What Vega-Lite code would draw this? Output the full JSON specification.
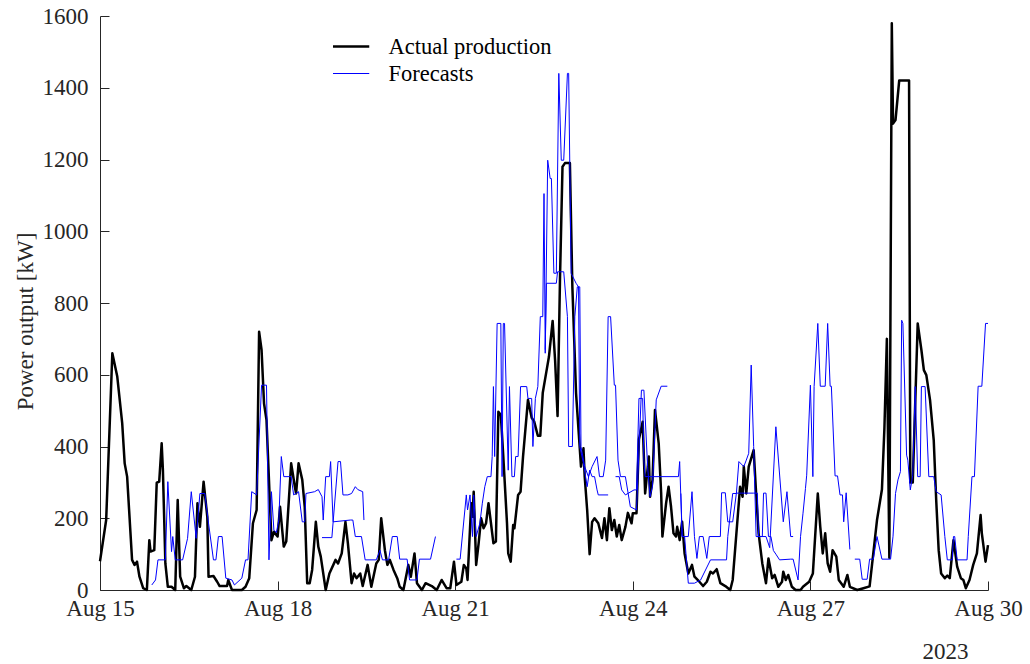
{
  "$schema": "https://vega.github.io/schema/vega-lite/v6.json",
  "width": 888,
  "height": 574,
  "autosize": {"type": "none"},
  "padding": {"left": 100, "top": 16, "right": 42, "bottom": 74},
  "background": "white",
  "config": {"view": {"stroke": null}, "font": "Liberation Serif"},
  "datasets": {
    "actual": [
      {"time":"2023-08-15T00:00","kW":80},{"time":"2023-08-15T02:30","kW":195},{"time":"2023-08-15T05:00","kW":660},{"time":"2023-08-15T07:00","kW":595},{"time":"2023-08-15T09:00","kW":465},{"time":"2023-08-15T10:00","kW":353},{"time":"2023-08-15T11:00","kW":316},{"time":"2023-08-15T13:00","kW":84},{"time":"2023-08-15T14:00","kW":70},{"time":"2023-08-15T15:00","kW":79},{"time":"2023-08-15T16:00","kW":37},{"time":"2023-08-15T17:30","kW":5},{"time":"2023-08-15T19:00","kW":0},{"time":"2023-08-15T20:00","kW":139},{"time":"2023-08-15T20:30","kW":107},{"time":"2023-08-15T22:00","kW":111},{"time":"2023-08-15T23:00","kW":299},
      {"time":"2023-08-16T00:00","kW":302},{"time":"2023-08-16T01:00","kW":409},{"time":"2023-08-16T01:30","kW":334},{"time":"2023-08-16T02:30","kW":74},{"time":"2023-08-16T03:30","kW":9},{"time":"2023-08-16T05:00","kW":9},{"time":"2023-08-16T06:30","kW":0},{"time":"2023-08-16T07:30","kW":251},{"time":"2023-08-16T08:30","kW":37},{"time":"2023-08-16T10:00","kW":5},{"time":"2023-08-16T11:00","kW":11},{"time":"2023-08-16T13:00","kW":0},{"time":"2023-08-16T14:30","kW":37},{"time":"2023-08-16T15:30","kW":242},{"time":"2023-08-16T16:30","kW":176},{"time":"2023-08-16T18:00","kW":302},{"time":"2023-08-16T19:30","kW":204},{"time":"2023-08-16T20:00","kW":37},{"time":"2023-08-16T22:00","kW":39},{"time":"2023-08-16T23:30","kW":23},
      {"time":"2023-08-17T00:30","kW":11},{"time":"2023-08-17T03:30","kW":11},{"time":"2023-08-17T04:00","kW":28},{"time":"2023-08-17T05:30","kW":0},{"time":"2023-08-17T09:30","kW":0},{"time":"2023-08-17T11:00","kW":9},{"time":"2023-08-17T12:30","kW":33},{"time":"2023-08-17T14:00","kW":186},{"time":"2023-08-17T15:30","kW":223},{"time":"2023-08-17T16:30","kW":720},{"time":"2023-08-17T17:30","kW":669},{"time":"2023-08-17T18:30","kW":520},{"time":"2023-08-17T19:30","kW":474},{"time":"2023-08-17T21:30","kW":139},{"time":"2023-08-17T22:30","kW":162},
      {"time":"2023-08-18T00:00","kW":149},{"time":"2023-08-18T01:00","kW":232},{"time":"2023-08-18T01:30","kW":195},{"time":"2023-08-18T02:30","kW":121},{"time":"2023-08-18T03:30","kW":135},{"time":"2023-08-18T05:30","kW":353},{"time":"2023-08-18T07:00","kW":288},{"time":"2023-08-18T07:30","kW":269},{"time":"2023-08-18T08:30","kW":353},{"time":"2023-08-18T10:00","kW":307},{"time":"2023-08-18T11:00","kW":232},{"time":"2023-08-18T12:00","kW":19},{"time":"2023-08-18T13:00","kW":19},{"time":"2023-08-18T14:00","kW":56},{"time":"2023-08-18T15:30","kW":190},{"time":"2023-08-18T16:30","kW":121},{"time":"2023-08-18T17:30","kW":93},{"time":"2023-08-18T19:30","kW":0},{"time":"2023-08-18T21:00","kW":46},{"time":"2023-08-18T23:30","kW":84},
      {"time":"2023-08-19T00:30","kW":74},{"time":"2023-08-19T02:00","kW":102},{"time":"2023-08-19T03:30","kW":190},{"time":"2023-08-19T04:30","kW":130},{"time":"2023-08-19T06:00","kW":19},{"time":"2023-08-19T07:00","kW":46},{"time":"2023-08-19T08:00","kW":33},{"time":"2023-08-19T09:30","kW":46},{"time":"2023-08-19T10:30","kW":11},{"time":"2023-08-19T12:30","kW":70},{"time":"2023-08-19T14:00","kW":9},{"time":"2023-08-19T16:00","kW":74},{"time":"2023-08-19T17:00","kW":84},{"time":"2023-08-19T18:00","kW":200},{"time":"2023-08-19T19:30","kW":111},{"time":"2023-08-19T20:30","kW":70},{"time":"2023-08-19T21:30","kW":84},{"time":"2023-08-19T23:00","kW":56},
      {"time":"2023-08-20T00:30","kW":33},{"time":"2023-08-20T01:30","kW":9},{"time":"2023-08-20T03:00","kW":0},{"time":"2023-08-20T05:00","kW":70},{"time":"2023-08-20T06:00","kW":37},{"time":"2023-08-20T07:30","kW":102},{"time":"2023-08-20T08:30","kW":19},{"time":"2023-08-20T10:30","kW":0},{"time":"2023-08-20T12:00","kW":19},{"time":"2023-08-20T14:30","kW":11},{"time":"2023-08-20T16:30","kW":0},{"time":"2023-08-20T18:30","kW":28},{"time":"2023-08-20T20:30","kW":5},{"time":"2023-08-20T22:00","kW":5},{"time":"2023-08-20T23:30","kW":79},
      {"time":"2023-08-21T00:30","kW":14},{"time":"2023-08-21T02:30","kW":23},{"time":"2023-08-21T03:30","kW":70},{"time":"2023-08-21T04:30","kW":60},{"time":"2023-08-21T05:00","kW":28},{"time":"2023-08-21T06:30","kW":242},{"time":"2023-08-21T07:00","kW":204},{"time":"2023-08-21T07:30","kW":274},{"time":"2023-08-21T08:30","kW":70},{"time":"2023-08-21T09:30","kW":130},{"time":"2023-08-21T10:30","kW":200},{"time":"2023-08-21T11:30","kW":172},{"time":"2023-08-21T12:30","kW":186},{"time":"2023-08-21T13:30","kW":242},{"time":"2023-08-21T14:30","kW":186},{"time":"2023-08-21T15:30","kW":130},{"time":"2023-08-21T16:30","kW":135},{"time":"2023-08-21T17:30","kW":497},{"time":"2023-08-21T18:30","kW":488},{"time":"2023-08-21T19:30","kW":372},{"time":"2023-08-21T21:00","kW":186},{"time":"2023-08-21T21:30","kW":102},{"time":"2023-08-21T22:30","kW":79},{"time":"2023-08-21T23:30","kW":181},
      {"time":"2023-08-22T00:00","kW":172},{"time":"2023-08-22T01:30","kW":265},{"time":"2023-08-22T02:30","kW":274},{"time":"2023-08-22T03:30","kW":372},{"time":"2023-08-22T05:30","kW":530},{"time":"2023-08-22T07:00","kW":480},{"time":"2023-08-22T08:00","kW":470},{"time":"2023-08-22T09:30","kW":430},{"time":"2023-08-22T10:30","kW":430},{"time":"2023-08-22T11:30","kW":550},{"time":"2023-08-22T13:00","kW":610},{"time":"2023-08-22T14:00","kW":650},{"time":"2023-08-22T15:30","kW":750},{"time":"2023-08-22T16:30","kW":640},{"time":"2023-08-22T17:30","kW":485},{"time":"2023-08-22T18:30","kW":873},{"time":"2023-08-22T19:30","kW":1180},{"time":"2023-08-22T20:30","kW":1190},{"time":"2023-08-22T22:30","kW":1190},{"time":"2023-08-22T23:30","kW":845},
      {"time":"2023-08-23T01:00","kW":548},{"time":"2023-08-23T03:00","kW":344},{"time":"2023-08-23T04:00","kW":395},{"time":"2023-08-23T04:30","kW":316},{"time":"2023-08-23T05:30","kW":223},{"time":"2023-08-23T06:30","kW":100},{"time":"2023-08-23T07:30","kW":190},{"time":"2023-08-23T08:30","kW":200},{"time":"2023-08-23T10:00","kW":186},{"time":"2023-08-23T11:30","kW":145},{"time":"2023-08-23T12:30","kW":200},{"time":"2023-08-23T13:30","kW":139},{"time":"2023-08-23T14:30","kW":228},{"time":"2023-08-23T15:30","kW":167},{"time":"2023-08-23T16:30","kW":195},{"time":"2023-08-23T17:30","kW":149},{"time":"2023-08-23T18:30","kW":181},{"time":"2023-08-23T19:30","kW":139},{"time":"2023-08-23T21:00","kW":176},{"time":"2023-08-23T22:00","kW":215},{"time":"2023-08-23T23:30","kW":186},
      {"time":"2023-08-24T00:00","kW":214},{"time":"2023-08-24T01:30","kW":214},{"time":"2023-08-24T02:30","kW":420},{"time":"2023-08-24T04:00","kW":469},{"time":"2023-08-24T05:00","kW":269},{"time":"2023-08-24T06:30","kW":372},{"time":"2023-08-24T07:00","kW":260},{"time":"2023-08-24T08:00","kW":307},{"time":"2023-08-24T09:00","kW":502},{"time":"2023-08-24T10:30","kW":409},{"time":"2023-08-24T11:30","kW":269},{"time":"2023-08-24T12:00","kW":149},{"time":"2023-08-24T13:30","kW":242},{"time":"2023-08-24T14:30","kW":288},{"time":"2023-08-24T15:30","kW":232},{"time":"2023-08-24T16:30","kW":158},{"time":"2023-08-24T17:30","kW":149},{"time":"2023-08-24T18:00","kW":176},{"time":"2023-08-24T19:00","kW":139},{"time":"2023-08-24T20:00","kW":190},{"time":"2023-08-24T21:00","kW":102},{"time":"2023-08-24T22:30","kW":46},
      {"time":"2023-08-25T00:00","kW":70},{"time":"2023-08-25T01:00","kW":37},{"time":"2023-08-25T03:00","kW":23},{"time":"2023-08-25T04:30","kW":11},{"time":"2023-08-25T06:00","kW":23},{"time":"2023-08-25T07:30","kW":51},{"time":"2023-08-25T08:30","kW":46},{"time":"2023-08-25T10:00","kW":58},{"time":"2023-08-25T11:30","kW":19},{"time":"2023-08-25T13:30","kW":11},{"time":"2023-08-25T15:30","kW":0},{"time":"2023-08-25T16:30","kW":28},{"time":"2023-08-25T18:00","kW":158},{"time":"2023-08-25T19:30","kW":288},{"time":"2023-08-25T20:30","kW":260},{"time":"2023-08-25T21:00","kW":344},{"time":"2023-08-25T22:00","kW":269},{"time":"2023-08-25T23:00","kW":344},
      {"time":"2023-08-26T01:00","kW":390},{"time":"2023-08-26T02:00","kW":269},{"time":"2023-08-26T03:00","kW":158},{"time":"2023-08-26T04:30","kW":74},{"time":"2023-08-26T06:00","kW":19},{"time":"2023-08-26T07:00","kW":88},{"time":"2023-08-26T08:30","kW":33},{"time":"2023-08-26T09:30","kW":42},{"time":"2023-08-26T11:00","kW":9},{"time":"2023-08-26T12:30","kW":23},{"time":"2023-08-26T13:00","kW":51},{"time":"2023-08-26T14:00","kW":28},{"time":"2023-08-26T15:00","kW":42},{"time":"2023-08-26T16:30","kW":9},{"time":"2023-08-26T18:00","kW":0},{"time":"2023-08-26T20:00","kW":0},{"time":"2023-08-26T21:00","kW":9},{"time":"2023-08-26T23:30","kW":23},
      {"time":"2023-08-27T01:00","kW":46},{"time":"2023-08-27T03:00","kW":269},{"time":"2023-08-27T04:00","kW":176},{"time":"2023-08-27T05:00","kW":102},{"time":"2023-08-27T06:00","kW":158},{"time":"2023-08-27T07:00","kW":74},{"time":"2023-08-27T08:00","kW":51},{"time":"2023-08-27T09:00","kW":111},{"time":"2023-08-27T10:30","kW":93},{"time":"2023-08-27T11:30","kW":28},{"time":"2023-08-27T13:30","kW":9},{"time":"2023-08-27T15:00","kW":42},{"time":"2023-08-27T16:00","kW":9},{"time":"2023-08-27T19:00","kW":0},{"time":"2023-08-27T21:30","kW":5},
      {"time":"2023-08-28T00:00","kW":10},{"time":"2023-08-28T01:30","kW":102},{"time":"2023-08-28T03:00","kW":195},{"time":"2023-08-28T05:00","kW":280},{"time":"2023-08-28T06:00","kW":450},{"time":"2023-08-28T07:00","kW":700},{"time":"2023-08-28T08:00","kW":90},{"time":"2023-08-28T09:00","kW":1580},{"time":"2023-08-28T09:30","kW":1300},{"time":"2023-08-28T10:30","kW":1310},{"time":"2023-08-28T12:00","kW":1420},{"time":"2023-08-28T16:00","kW":1420},{"time":"2023-08-28T16:30","kW":300},{"time":"2023-08-28T17:30","kW":300},{"time":"2023-08-28T19:30","kW":743},{"time":"2023-08-28T21:00","kW":669},{"time":"2023-08-28T22:00","kW":613},{"time":"2023-08-28T23:00","kW":599},
      {"time":"2023-08-29T00:30","kW":530},{"time":"2023-08-29T02:00","kW":418},{"time":"2023-08-29T03:00","kW":251},{"time":"2023-08-29T04:00","kW":111},{"time":"2023-08-29T05:00","kW":46},{"time":"2023-08-29T06:30","kW":33},{"time":"2023-08-29T07:30","kW":40},{"time":"2023-08-29T08:30","kW":33},{"time":"2023-08-29T10:00","kW":139},{"time":"2023-08-29T11:30","kW":65},{"time":"2023-08-29T13:00","kW":33},{"time":"2023-08-29T14:00","kW":28},{"time":"2023-08-29T15:00","kW":5},{"time":"2023-08-29T16:30","kW":28},{"time":"2023-08-29T18:00","kW":70},{"time":"2023-08-29T19:30","kW":102},{"time":"2023-08-29T21:00","kW":209},{"time":"2023-08-29T21:30","kW":158},{"time":"2023-08-29T23:00","kW":79},
      {"time":"2023-08-30T00:00","kW":125}
    ],
    "forecasts": [
      {"run":1,"time":"2023-08-15T21:00","kW":14},{"run":1,"time":"2023-08-15T22:30","kW":28},{"run":1,"time":"2023-08-15T23:30","kW":84},{"run":1,"time":"2023-08-16T02:30","kW":84},{"run":1,"time":"2023-08-16T03:30","kW":302},{"run":1,"time":"2023-08-16T05:00","kW":107},{"run":1,"time":"2023-08-16T05:30","kW":149},{"run":1,"time":"2023-08-16T06:30","kW":84},{"run":1,"time":"2023-08-16T09:30","kW":84},{"run":1,"time":"2023-08-16T11:30","kW":144},{"run":1,"time":"2023-08-16T13:00","kW":274},{"run":1,"time":"2023-08-16T15:00","kW":144},{"run":1,"time":"2023-08-16T16:30","kW":269},{"run":1,"time":"2023-08-16T18:30","kW":269},{"run":1,"time":"2023-08-16T20:00","kW":186},{"run":1,"time":"2023-08-16T22:00","kW":84},{"run":1,"time":"2023-08-16T23:00","kW":84},
      {"run":1,"time":"2023-08-17T00:00","kW":149},{"run":1,"time":"2023-08-17T01:30","kW":149},{"run":1,"time":"2023-08-17T03:00","kW":33},{"run":1,"time":"2023-08-17T05:30","kW":28},{"run":1,"time":"2023-08-17T06:30","kW":14},{"run":1,"time":"2023-08-17T09:30","kW":33},{"run":1,"time":"2023-08-17T11:00","kW":84},{"run":1,"time":"2023-08-17T12:00","kW":84},{"run":1,"time":"2023-08-17T13:30","kW":274},{"run":1,"time":"2023-08-17T15:30","kW":265},{"run":1,"time":"2023-08-17T17:30","kW":571},{"run":1,"time":"2023-08-17T19:30","kW":571},{"run":1,"time":"2023-08-17T20:30","kW":84},{"run":1,"time":"2023-08-17T21:30","kW":274},{"run":1,"time":"2023-08-17T22:30","kW":167},{"run":1,"time":"2023-08-17T23:30","kW":160},
      {"run":1,"time":"2023-08-18T00:30","kW":195},{"run":1,"time":"2023-08-18T01:30","kW":372},{"run":1,"time":"2023-08-18T02:30","kW":316},{"run":1,"time":"2023-08-18T05:30","kW":316},{"run":1,"time":"2023-08-18T06:30","kW":265},{"run":1,"time":"2023-08-18T08:30","kW":274},{"run":1,"time":"2023-08-18T10:00","kW":190},{"run":1,"time":"2023-08-18T11:00","kW":190},{"run":1,"time":"2023-08-18T11:30","kW":269},{"run":1,"time":"2023-08-18T15:00","kW":274},{"run":1,"time":"2023-08-18T16:30","kW":280},{"run":1,"time":"2023-08-18T18:00","kW":260},{"run":1,"time":"2023-08-18T18:30","kW":195},{"run":1,"time":"2023-08-18T19:30","kW":316},{"run":1,"time":"2023-08-18T21:00","kW":316},{"run":1,"time":"2023-08-18T21:30","kW":358},{"run":1,"time":"2023-08-18T22:30","kW":190},
      {"run":1,"time":"2023-08-19T05:30","kW":195},{"run":1,"time":"2023-08-19T06:30","kW":195},{"run":1,"time":"2023-08-19T07:30","kW":149},{"run":1,"time":"2023-08-19T10:00","kW":149},{"run":1,"time":"2023-08-19T11:30","kW":84},{"run":1,"time":"2023-08-19T16:00","kW":84},{"run":1,"time":"2023-08-19T17:30","kW":111},{"run":1,"time":"2023-08-19T18:30","kW":84},{"run":1,"time":"2023-08-19T21:00","kW":84},{"run":1,"time":"2023-08-19T22:30","kW":149},
      {"run":1,"time":"2023-08-20T00:30","kW":149},{"run":1,"time":"2023-08-20T01:30","kW":86},{"run":1,"time":"2023-08-20T04:30","kW":86},{"run":1,"time":"2023-08-20T05:30","kW":28},{"run":1,"time":"2023-08-20T08:30","kW":28},{"run":1,"time":"2023-08-20T09:30","kW":86},{"run":1,"time":"2023-08-20T14:00","kW":86},{"run":1,"time":"2023-08-20T16:00","kW":149},
      {"run":2,"time":"2023-08-18T18:00","kW":146},{"run":2,"time":"2023-08-18T22:00","kW":146},{"run":2,"time":"2023-08-19T00:30","kW":358},{"run":2,"time":"2023-08-19T01:30","kW":358},{"run":2,"time":"2023-08-19T02:30","kW":265},{"run":2,"time":"2023-08-19T04:30","kW":265},{"run":2,"time":"2023-08-19T06:00","kW":269},{"run":2,"time":"2023-08-19T07:30","kW":288},{"run":2,"time":"2023-08-19T08:30","kW":280},{"run":2,"time":"2023-08-19T10:30","kW":274},{"run":2,"time":"2023-08-19T11:00","kW":195},
      {"run":3,"time":"2023-08-21T00:30","kW":86},{"run":3,"time":"2023-08-21T02:00","kW":86},{"run":3,"time":"2023-08-21T04:30","kW":265},{"run":3,"time":"2023-08-21T05:00","kW":223},{"run":3,"time":"2023-08-21T06:00","kW":265},{"run":3,"time":"2023-08-21T07:00","kW":149},{"run":3,"time":"2023-08-21T07:30","kW":265},{"run":3,"time":"2023-08-21T08:30","kW":149},{"run":3,"time":"2023-08-21T10:00","kW":186},{"run":3,"time":"2023-08-21T11:00","kW":242},{"run":3,"time":"2023-08-21T12:00","kW":288},{"run":3,"time":"2023-08-21T13:00","kW":316},{"run":3,"time":"2023-08-21T14:30","kW":316},{"run":3,"time":"2023-08-21T15:00","kW":372},{"run":3,"time":"2023-08-21T15:30","kW":567},{"run":3,"time":"2023-08-21T16:00","kW":372},{"run":3,"time":"2023-08-21T17:00","kW":743},{"run":3,"time":"2023-08-21T18:30","kW":743},{"run":3,"time":"2023-08-21T19:00","kW":316},{"run":3,"time":"2023-08-21T19:30","kW":743},{"run":3,"time":"2023-08-21T20:00","kW":743},{"run":3,"time":"2023-08-21T21:30","kW":334},{"run":3,"time":"2023-08-21T22:00","kW":567},{"run":3,"time":"2023-08-21T23:00","kW":316},
      {"run":3,"time":"2023-08-22T00:00","kW":316},{"run":3,"time":"2023-08-22T00:30","kW":372},{"run":3,"time":"2023-08-22T01:30","kW":372},{"run":3,"time":"2023-08-22T02:30","kW":567},{"run":3,"time":"2023-08-22T05:00","kW":567},{"run":3,"time":"2023-08-22T05:30","kW":534},{"run":3,"time":"2023-08-22T07:00","kW":534},{"run":3,"time":"2023-08-22T07:30","kW":400},{"run":3,"time":"2023-08-22T08:30","kW":534},{"run":3,"time":"2023-08-22T09:30","kW":567},{"run":3,"time":"2023-08-22T10:30","kW":762},{"run":3,"time":"2023-08-22T11:30","kW":762},{"run":3,"time":"2023-08-22T12:00","kW":1105},{"run":3,"time":"2023-08-22T12:30","kW":660},{"run":3,"time":"2023-08-22T13:30","kW":1198},{"run":3,"time":"2023-08-22T14:30","kW":1147},{"run":3,"time":"2023-08-22T15:00","kW":1147},{"run":3,"time":"2023-08-22T16:00","kW":883},{"run":3,"time":"2023-08-22T17:00","kW":883},{"run":3,"time":"2023-08-22T18:00","kW":1440},{"run":3,"time":"2023-08-22T19:00","kW":1198},{"run":3,"time":"2023-08-22T20:00","kW":1198},{"run":3,"time":"2023-08-22T21:30","kW":1440},{"run":3,"time":"2023-08-22T22:00","kW":1440},{"run":3,"time":"2023-08-22T23:00","kW":883},
      {"run":3,"time":"2023-08-23T01:00","kW":855},{"run":3,"time":"2023-08-23T02:00","kW":845},{"run":3,"time":"2023-08-23T02:30","kW":400},{"run":3,"time":"2023-08-23T04:00","kW":353},{"run":3,"time":"2023-08-23T05:30","kW":288},{"run":3,"time":"2023-08-23T06:30","kW":334},{"run":3,"time":"2023-08-23T07:30","kW":316},{"run":3,"time":"2023-08-23T08:30","kW":316},{"run":3,"time":"2023-08-23T09:30","kW":279},{"run":3,"time":"2023-08-23T10:00","kW":265},{"run":3,"time":"2023-08-23T14:00","kW":265},
      {"run":4,"time":"2023-08-22T12:30","kW":670},{"run":4,"time":"2023-08-22T13:00","kW":855},{"run":4,"time":"2023-08-22T17:00","kW":855},{"run":4,"time":"2023-08-22T17:30","kW":887},{"run":4,"time":"2023-08-22T20:00","kW":887},{"run":4,"time":"2023-08-22T21:30","kW":762},{"run":4,"time":"2023-08-22T22:00","kW":400},{"run":4,"time":"2023-08-22T23:30","kW":400},{"run":4,"time":"2023-08-23T00:30","kW":762},{"run":4,"time":"2023-08-23T01:30","kW":845},{"run":4,"time":"2023-08-23T02:30","kW":845},{"run":4,"time":"2023-08-23T03:00","kW":400},{"run":4,"time":"2023-08-23T04:30","kW":344},{"run":4,"time":"2023-08-23T06:00","kW":316},{"run":4,"time":"2023-08-23T07:30","kW":344},{"run":4,"time":"2023-08-23T09:30","kW":372},{"run":4,"time":"2023-08-23T10:30","kW":316},{"run":4,"time":"2023-08-23T12:00","kW":316},{"run":4,"time":"2023-08-23T13:00","kW":362},{"run":4,"time":"2023-08-23T14:00","kW":762},{"run":4,"time":"2023-08-23T15:00","kW":762},{"run":4,"time":"2023-08-23T16:30","kW":571},{"run":4,"time":"2023-08-23T17:00","kW":571},{"run":4,"time":"2023-08-23T18:00","kW":362},{"run":4,"time":"2023-08-23T19:00","kW":316},{"run":4,"time":"2023-08-23T21:00","kW":316},{"run":4,"time":"2023-08-23T23:00","kW":232},{"run":4,"time":"2023-08-24T01:30","kW":223},{"run":4,"time":"2023-08-24T03:30","kW":557},{"run":4,"time":"2023-08-24T04:30","kW":557},{"run":4,"time":"2023-08-24T06:00","kW":344},{"run":4,"time":"2023-08-24T07:00","kW":260},{"run":4,"time":"2023-08-24T08:00","kW":290},{"run":4,"time":"2023-08-24T09:30","kW":530},{"run":4,"time":"2023-08-24T11:30","kW":568},{"run":4,"time":"2023-08-24T14:00","kW":568},
      {"run":5,"time":"2023-08-23T17:00","kW":316},{"run":5,"time":"2023-08-23T18:30","kW":316},{"run":5,"time":"2023-08-23T19:30","kW":279},{"run":5,"time":"2023-08-23T21:00","kW":265},{"run":5,"time":"2023-08-24T00:30","kW":279},{"run":5,"time":"2023-08-24T01:30","kW":279},{"run":5,"time":"2023-08-24T02:30","kW":534},{"run":5,"time":"2023-08-24T04:00","kW":534},{"run":5,"time":"2023-08-24T04:30","kW":362},{"run":5,"time":"2023-08-24T05:00","kW":316},{"run":5,"time":"2023-08-24T18:30","kW":316},{"run":5,"time":"2023-08-24T19:00","kW":358},{"run":5,"time":"2023-08-24T20:00","kW":149},{"run":5,"time":"2023-08-24T21:00","kW":149},{"run":5,"time":"2023-08-24T22:30","kW":19},{"run":5,"time":"2023-08-25T01:00","kW":19},{"run":5,"time":"2023-08-25T03:30","kW":28},{"run":5,"time":"2023-08-25T07:30","kW":84},{"run":5,"time":"2023-08-25T14:00","kW":84},{"run":5,"time":"2023-08-25T14:30","kW":149},{"run":5,"time":"2023-08-25T16:30","kW":269},{"run":5,"time":"2023-08-25T18:00","kW":269},{"run":5,"time":"2023-08-25T19:00","kW":358},{"run":5,"time":"2023-08-25T21:00","kW":344},{"run":5,"time":"2023-08-25T22:00","kW":362},{"run":5,"time":"2023-08-25T23:00","kW":381},{"run":5,"time":"2023-08-26T00:00","kW":627},{"run":5,"time":"2023-08-26T01:00","kW":400},{"run":5,"time":"2023-08-26T02:00","kW":149},{"run":5,"time":"2023-08-26T06:00","kW":149},{"run":5,"time":"2023-08-26T07:30","kW":118},{"run":5,"time":"2023-08-26T10:00","kW":455},{"run":5,"time":"2023-08-26T13:00","kW":190},{"run":5,"time":"2023-08-26T14:30","kW":274},{"run":5,"time":"2023-08-26T16:00","kW":149},{"run":5,"time":"2023-08-26T17:00","kW":149},
      {"run":6,"time":"2023-08-24T19:30","kW":269},{"run":6,"time":"2023-08-24T20:00","kW":149},{"run":6,"time":"2023-08-24T22:30","kW":149},{"run":6,"time":"2023-08-25T00:00","kW":274},{"run":6,"time":"2023-08-25T01:00","kW":149},{"run":6,"time":"2023-08-25T02:00","kW":88},{"run":6,"time":"2023-08-25T03:00","kW":149},{"run":6,"time":"2023-08-25T04:30","kW":149},{"run":6,"time":"2023-08-25T06:00","kW":88},{"run":6,"time":"2023-08-25T07:00","kW":149},{"run":6,"time":"2023-08-25T11:30","kW":149},{"run":6,"time":"2023-08-25T12:00","kW":271},{"run":6,"time":"2023-08-25T13:30","kW":271},{"run":6,"time":"2023-08-25T14:30","kW":190},{"run":6,"time":"2023-08-25T16:30","kW":190},{"run":6,"time":"2023-08-25T18:00","kW":270},{"run":6,"time":"2023-08-25T20:00","kW":270},{"run":6,"time":"2023-08-26T01:00","kW":270},{"run":6,"time":"2023-08-26T02:30","kW":270},{"run":6,"time":"2023-08-26T03:00","kW":149},{"run":6,"time":"2023-08-26T04:30","kW":149},{"run":6,"time":"2023-08-26T05:00","kW":270},{"run":6,"time":"2023-08-26T06:00","kW":270},{"run":6,"time":"2023-08-26T07:00","kW":149},{"run":6,"time":"2023-08-26T08:00","kW":149},{"run":6,"time":"2023-08-26T09:00","kW":110},{"run":6,"time":"2023-08-26T10:00","kW":100},{"run":6,"time":"2023-08-26T11:30","kW":84},{"run":6,"time":"2023-08-26T16:00","kW":86},{"run":6,"time":"2023-08-26T17:00","kW":86},{"run":6,"time":"2023-08-26T19:00","kW":28},{"run":6,"time":"2023-08-26T20:00","kW":149},{"run":6,"time":"2023-08-26T21:00","kW":214},{"run":6,"time":"2023-08-26T22:00","kW":283},{"run":6,"time":"2023-08-26T22:30","kW":320},
      {"run":6,"time":"2023-08-27T00:00","kW":571},{"run":6,"time":"2023-08-27T01:00","kW":316},{"run":6,"time":"2023-08-27T01:30","kW":567},{"run":6,"time":"2023-08-27T03:00","kW":743},{"run":6,"time":"2023-08-27T04:00","kW":568},{"run":6,"time":"2023-08-27T06:00","kW":568},{"run":6,"time":"2023-08-27T07:00","kW":743},{"run":6,"time":"2023-08-27T08:00","kW":568},{"run":6,"time":"2023-08-27T08:30","kW":568},{"run":6,"time":"2023-08-27T10:00","kW":318},{"run":6,"time":"2023-08-27T11:00","kW":318},{"run":6,"time":"2023-08-27T12:00","kW":265},{"run":6,"time":"2023-08-27T13:00","kW":265},{"run":6,"time":"2023-08-27T13:30","kW":190},{"run":6,"time":"2023-08-27T14:30","kW":271},{"run":6,"time":"2023-08-27T16:00","kW":113},
      {"run":7,"time":"2023-08-27T18:00","kW":86},{"run":7,"time":"2023-08-27T20:00","kW":86},{"run":7,"time":"2023-08-27T21:00","kW":30},{"run":7,"time":"2023-08-27T23:00","kW":30},{"run":7,"time":"2023-08-28T00:00","kW":86},{"run":7,"time":"2023-08-28T01:30","kW":86},{"run":7,"time":"2023-08-28T03:00","kW":149},{"run":7,"time":"2023-08-28T05:00","kW":86},{"run":7,"time":"2023-08-28T08:30","kW":86},{"run":7,"time":"2023-08-28T09:30","kW":150},{"run":7,"time":"2023-08-28T10:30","kW":269},{"run":7,"time":"2023-08-28T11:30","kW":307},{"run":7,"time":"2023-08-28T12:30","kW":330},{"run":7,"time":"2023-08-28T13:00","kW":752},{"run":7,"time":"2023-08-28T13:30","kW":743},{"run":7,"time":"2023-08-28T15:00","kW":376},{"run":7,"time":"2023-08-28T15:30","kW":362},{"run":7,"time":"2023-08-28T16:30","kW":279},{"run":7,"time":"2023-08-28T17:30","kW":320},{"run":7,"time":"2023-08-28T18:30","kW":567},{"run":7,"time":"2023-08-28T19:30","kW":316},{"run":7,"time":"2023-08-28T20:30","kW":316},{"run":7,"time":"2023-08-28T21:00","kW":567},{"run":7,"time":"2023-08-28T22:30","kW":567},
      {"run":7,"time":"2023-08-29T00:00","kW":316},{"run":7,"time":"2023-08-29T02:00","kW":316},{"run":7,"time":"2023-08-29T03:00","kW":274},{"run":7,"time":"2023-08-29T05:00","kW":265},{"run":7,"time":"2023-08-29T06:30","kW":149},{"run":7,"time":"2023-08-29T07:30","kW":84},{"run":7,"time":"2023-08-29T09:30","kW":84},{"run":7,"time":"2023-08-29T10:00","kW":149},{"run":7,"time":"2023-08-29T10:30","kW":149},{"run":7,"time":"2023-08-29T11:30","kW":84},{"run":7,"time":"2023-08-29T15:30","kW":84},{"run":7,"time":"2023-08-29T16:00","kW":149},{"run":7,"time":"2023-08-29T17:30","kW":316},{"run":7,"time":"2023-08-29T18:30","kW":316},{"run":7,"time":"2023-08-29T20:00","kW":568},{"run":7,"time":"2023-08-29T21:30","kW":568},{"run":7,"time":"2023-08-29T23:00","kW":743},{"run":7,"time":"2023-08-30T00:00","kW":743}
    ]
  },
  "encoding": {
    "x": {
      "field": "time",
      "type": "temporal",
      "scale": {"domain": [{"year": 2023, "month": "aug", "date": 15}, {"year": 2023, "month": "aug", "date": 30}]},
      "axis": {
        "values": [
          {"year": 2023, "month": "aug", "date": 15},
          {"year": 2023, "month": "aug", "date": 18},
          {"year": 2023, "month": "aug", "date": 21},
          {"year": 2023, "month": "aug", "date": 24},
          {"year": 2023, "month": "aug", "date": 27},
          {"year": 2023, "month": "aug", "date": 30}
        ],
        "format": "%b %d",
        "grid": false,
        "tickSize": -9,
        "tickColor": "#262626",
        "domainColor": "#262626",
        "labelPadding": 16,
        "labelFont": "Liberation Serif",
        "labelFontSize": 23,
        "labelColor": "#262626",
        "labelFlush": false,
        "labelOverlap": false,
        "title": "2023",
        "titleFont": "Liberation Serif",
        "titleFontSize": 23,
        "titleFontWeight": "normal",
        "titleColor": "#262626",
        "titleAnchor": "end",
        "titleAlign": "right",
        "titleBaseline": "top",
        "titleX": 868,
        "titleY": 50
      }
    },
    "y": {
      "field": "kW",
      "type": "quantitative",
      "scale": {"domain": [0, 1600], "nice": false},
      "axis": {
        "values": [0, 200, 400, 600, 800, 1000, 1200, 1400, 1600],
        "format": "d",
        "grid": false,
        "tickSize": -9,
        "tickColor": "#262626",
        "domainColor": "#262626",
        "labelPadding": 21,
        "labelFont": "Liberation Serif",
        "labelFontSize": 23,
        "labelColor": "#262626",
        "labelFlush": false,
        "labelOverlap": false,
        "title": "Power output [kW]",
        "titleFont": "Liberation Serif",
        "titleFontSize": 23,
        "titleFontWeight": "normal",
        "titleColor": "#262626",
        "titleAngle": -90,
        "titleAlign": "center",
        "titleBaseline": "middle",
        "titleX": -75,
        "titleY": 305
      }
    }
  },
  "layer": [
    {
      "data": {"name": "actual"},
      "mark": {"type": "line", "strokeWidth": 2.5, "strokeJoin": "round"},
      "encoding": {
        "color": {
          "datum": "Actual production",
          "type": "nominal",
          "scale": {"domain": ["Actual production", "Forecasts"], "range": ["#000000", "#0000ff"]},
          "legend": {
            "orient": "none",
            "legendX": 233,
            "legendY": 17,
            "title": null,
            "padding": 0,
            "symbolType": "stroke",
            "symbolSize": 2500,
            "symbolStrokeWidth": 1,
            "clipHeight": 27,
            "rowPadding": 0,
            "labelOffset": 33,
            "labelLimit": 400,
            "labelFont": "Liberation Serif",
            "labelFontSize": 22.5,
            "labelColor": "#000000",
            "encode": {
              "symbols": {"update": {"strokeWidth": {"signal": "datum.value === 'Actual production' ? 2.5 : 1"}}}
            }
          }
        }
      }
    },
    {
      "data": {"name": "forecasts"},
      "mark": {"type": "line", "strokeWidth": 1},
      "encoding": {
        "detail": {"field": "run", "type": "nominal"},
        "color": {"datum": "Forecasts", "type": "nominal"}
      }
    }
  ]
}
